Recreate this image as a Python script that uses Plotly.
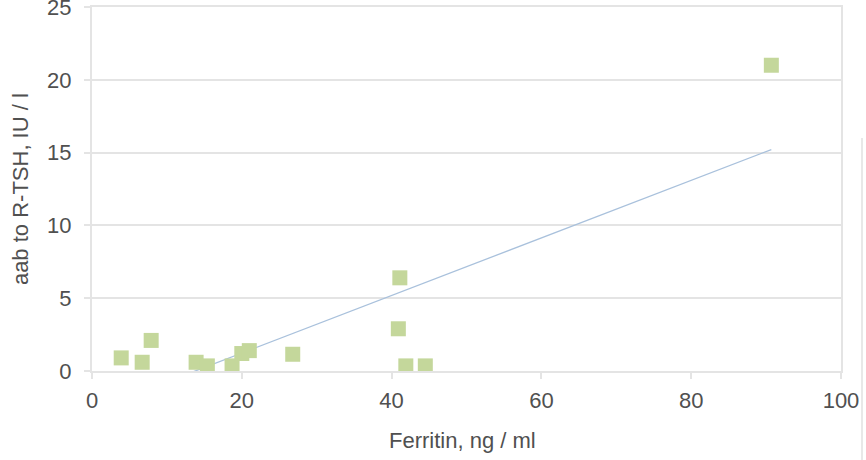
import numpy as np
import plotly.graph_objects as go

ferritin = [3.9, 6.7, 7.9, 13.9, 15.4, 18.7, 20.0, 21.0, 26.8, 41.1, 40.9, 41.9, 44.5, 90.7]
aab_rtsh = [0.9, 0.6, 2.1, 0.6, 0.35, 0.35, 1.2, 1.4, 1.15, 6.4, 2.9, 0.35, 0.35, 21.0]
x_ticks = [0, 20, 40, 60, 80, 100]
y_ticks = [0, 5, 10, 15, 20, 25]

slope, intercept = np.polyfit(ferritin, aab_rtsh, 1)
trend_x = [min(ferritin), max(ferritin)]
trend_y = [slope * v + intercept for v in trend_x]

font_family = "Liberation Sans, Arial, sans-serif"
text_color = "#505050"
grid_color = "#e4e4e4"

fig = go.Figure()
fig.add_trace(go.Scatter(
    x=trend_x, y=trend_y, mode="lines",
    line=dict(color="#a9c1dc", width=1.3),
    hoverinfo="skip", showlegend=False,
))
fig.add_trace(go.Scatter(
    x=ferritin, y=aab_rtsh, mode="markers",
    marker=dict(symbol="square", size=15, color="#c4d79b"),
    showlegend=False,
))

fig.update_layout(
    width=866, height=460,
    margin=dict(l=92, r=25, t=7, b=89),
    plot_bgcolor="white", paper_bgcolor="white",
    font=dict(family=font_family, size=22, color=text_color),
    xaxis=dict(
        range=[0, 100], tickvals=x_ticks, showgrid=False, zeroline=False,
        automargin=False, ticklabeloverflow="allow",
        showline=True, linecolor=grid_color, linewidth=2, mirror=True,
        ticks="outside", ticklen=6, tickcolor=grid_color, tickwidth=2,
        ticklabelstandoff=3,
        tickfont=dict(size=22, color=text_color),
    ),
    yaxis=dict(
        range=[0, 25], tickvals=y_ticks, showgrid=True, gridcolor=grid_color, gridwidth=2,
        automargin=False, ticklabeloverflow="allow",
        zeroline=False, showline=True, linecolor=grid_color, linewidth=2, mirror=True,
        ticks="outside", ticklen=6, tickcolor=grid_color, tickwidth=2,
        ticklabelstandoff=8,
        tickfont=dict(size=22, color=text_color),
    ),
    annotations=[
        dict(text="Ferritin, ng / ml", xref="paper", yref="paper", x=0.495, y=-0.19,
             xanchor="center", yanchor="middle", showarrow=False,
             font=dict(size=22, color=text_color)),
        dict(text="aab to R-TSH, IU / l", xref="paper", yref="paper", x=-0.096, y=0.50,
             xanchor="center", yanchor="middle", showarrow=False, textangle=-90,
             font=dict(size=22, color=text_color)),
    ],
    shapes=[dict(
        type="line", xref="paper", yref="paper",
        x0=1.028, x1=1.028, y0=0.64, y1=-0.26,
        line=dict(color="#e8e8e8", width=2),
    )],
)

fig.write_html("out.html", config={"displayModeBar": False},
               post_script="document.body.style.margin='0';")
